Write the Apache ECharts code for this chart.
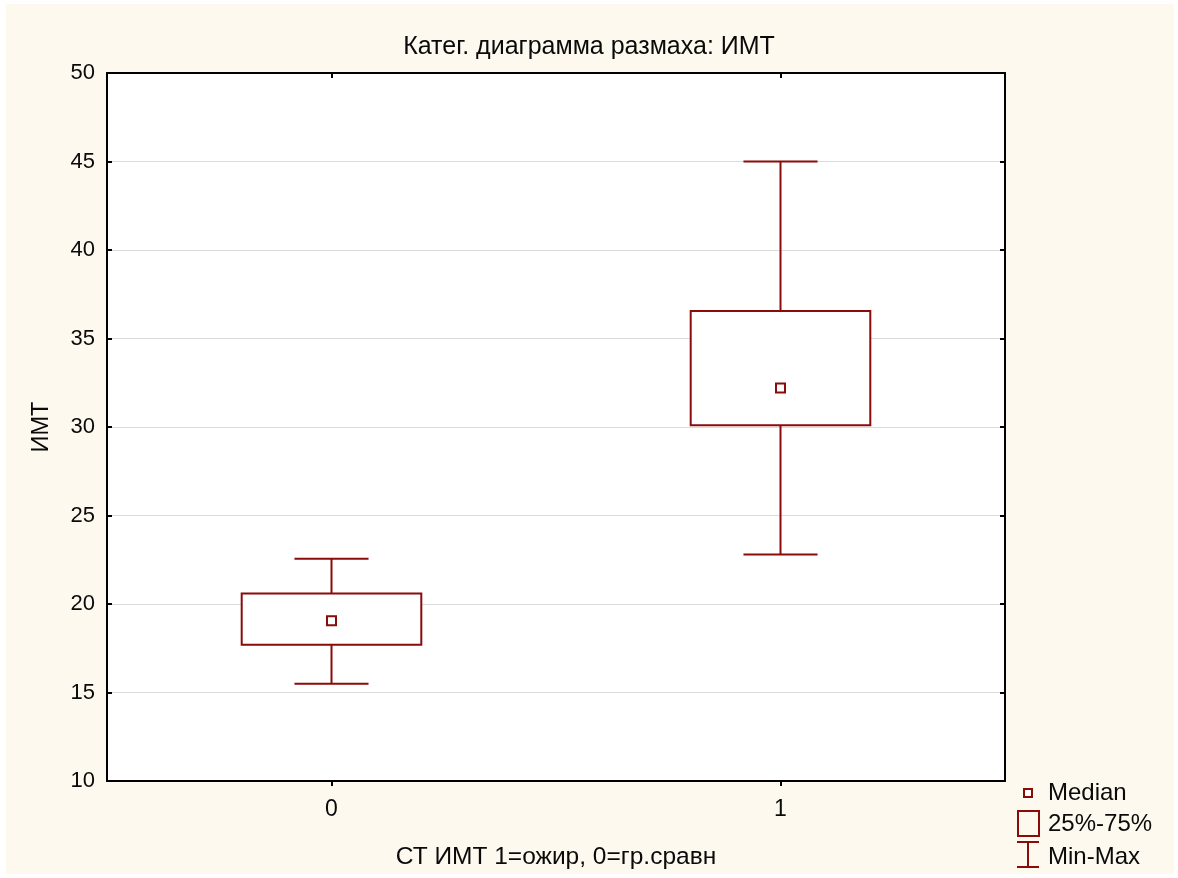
<!DOCTYPE html>
<html>
<head>
<meta charset="utf-8">
<script src="https://cdn.jsdelivr.net/npm/echarts@6/dist/echarts.min.js"></script>
<style>
html,body{margin:0;padding:0;background:#fff;}
#c{width:1178px;height:878px;}
</style>
</head>
<body>
<div id="c"></div>
<script>
const categories = ['0', '1'];
const minVals = [15.5, 22.8];
const q1Vals = [17.7, 30.1];
const medianVals = [19.05, 32.2];
const q3Vals = [20.6, 36.55];
const maxVals = [22.55, 45.0];
const yTicks = [10, 15, 20, 25, 30, 35, 40, 45, 50];
const legendLabels = ['Median', '25%-75%', 'Min-Max'];

const RED = '#8b0a0a';
const FONT = '"Liberation Sans", Arial, sans-serif';
const TXT = '#0a0a0a';

const data = categories.map((c, i) => [i, minVals[i], q1Vals[i], medianVals[i], q3Vals[i], maxVals[i]]);

function renderItem(params, api) {
  const idx = api.value(0);
  const band = api.size([1, 0])[0];
  const boxW = band * 0.4;
  const capW = band * 0.165;
  const pMin = api.coord([idx, api.value(1)]);
  const pQ1 = api.coord([idx, api.value(2)]);
  const pMed = api.coord([idx, api.value(3)]);
  const pQ3 = api.coord([idx, api.value(4)]);
  const pMax = api.coord([idx, api.value(5)]);
  const x = pMed[0];
  const ls = { stroke: RED, lineWidth: 2, fill: null };
  return {
    type: 'group',
    children: [
      { type: 'line', shape: { x1: x, y1: pMax[1], x2: x, y2: pQ3[1] }, style: ls },
      { type: 'line', shape: { x1: x, y1: pQ1[1], x2: x, y2: pMin[1] }, style: ls },
      { type: 'line', shape: { x1: x - capW / 2, y1: pMax[1], x2: x + capW / 2, y2: pMax[1] }, style: ls },
      { type: 'line', shape: { x1: x - capW / 2, y1: pMin[1], x2: x + capW / 2, y2: pMin[1] }, style: ls },
      { type: 'rect', shape: { x: x - boxW / 2, y: pQ3[1], width: boxW, height: pQ1[1] - pQ3[1] }, style: { stroke: RED, lineWidth: 2, fill: '#fff' } },
      { type: 'rect', shape: { x: x - 4.5, y: pMed[1] - 4.5, width: 9, height: 9 }, style: { stroke: RED, lineWidth: 2, fill: '#fff' } }
    ]
  };
}

const chart = echarts.init(document.getElementById('c'), null, { renderer: 'canvas' });
const lx = 1017, ly = 781;
chart.setOption({
  backgroundColor: '#ffffff',
  animation: false,
  textStyle: { fontFamily: FONT },
  title: {
    text: 'Катег. диаграмма размаха: ИМТ',
    left: 'center', top: 30,
    textStyle: { fontFamily: FONT, fontSize: 25, fontWeight: 'normal', color: TXT }
  },
  grid: {
    left: 107, right: 173, top: 73, bottom: 97,
    show: true, backgroundColor: '#ffffff', borderColor: '#000', borderWidth: 0
  },
  xAxis: [
    {
      type: 'category', data: categories, position: 'bottom', boundaryGap: true,
      name: 'СТ ИМТ 1=ожир, 0=гр.сравн', nameLocation: 'middle', nameGap: 64,
      nameTextStyle: { fontFamily: FONT, fontSize: 24.5, color: TXT },
      axisLine: { show: true, lineStyle: { color: '#000', width: 2 } },
      axisTick: { show: true, alignWithLabel: true, inside: false, length: 5, lineStyle: { color: '#000', width: 2 } },
      axisLabel: { fontFamily: FONT, fontSize: 23, color: TXT, margin: 17 },
      splitLine: { show: false }
    },
    {
      type: 'category', data: categories, position: 'top', boundaryGap: true,
      axisLine: { show: true, lineStyle: { color: '#000', width: 2 } },
      axisTick: { show: true, alignWithLabel: true, inside: true, length: 5, lineStyle: { color: '#000', width: 2 } },
      axisLabel: { show: false },
      splitLine: { show: false }
    }
  ],
  yAxis: [
    {
      type: 'value', min: 10, max: 50, interval: 5, position: 'left',
      name: 'ИМТ', nameLocation: 'middle', nameGap: 53, nameRotate: 90,
      nameTextStyle: { fontFamily: FONT, fontSize: 23.5, color: TXT },
      axisLine: { show: true, lineStyle: { color: '#000', width: 2 } },
      axisTick: { show: true, inside: true, length: 5, lineStyle: { color: '#000', width: 2 } },
      axisLabel: { fontFamily: FONT, fontSize: 22, color: TXT, margin: 12,
        formatter: v => yTicks.includes(v) ? String(v) : '' },
      splitLine: { show: true, lineStyle: { color: '#dcdcdc', width: 1 } }
    },
    {
      type: 'value', min: 10, max: 50, interval: 5, position: 'right',
      axisLine: { show: true, lineStyle: { color: '#000', width: 2 } },
      axisTick: { show: true, inside: true, length: 5, lineStyle: { color: '#000', width: 2 } },
      axisLabel: { show: false },
      splitLine: { show: false }
    }
  ],
  graphic: [
    { type: 'rect', z: -100, silent: true, shape: { x: 6, y: 4, width: 1168, height: 870 }, style: { fill: '#fef9ee' } },
    { type: 'rect', shape: { x: lx + 7, y: ly + 8, width: 8, height: 8 }, style: { stroke: RED, lineWidth: 2, fill: '#fff' } },
    { type: 'text', style: { text: legendLabels[0], x: lx + 31, y: ly + 12, verticalAlign: 'middle', font: '24px ' + FONT, fill: TXT } },
    { type: 'rect', shape: { x: lx + 1, y: ly + 30, width: 21, height: 25 }, style: { stroke: RED, lineWidth: 2, fill: null } },
    { type: 'text', style: { text: legendLabels[1], x: lx + 31, y: ly + 43, verticalAlign: 'middle', font: '24px ' + FONT, fill: TXT } },
    { type: 'line', shape: { x1: lx, y1: ly + 61, x2: lx + 22, y2: ly + 61 }, style: { stroke: RED, lineWidth: 2 } },
    { type: 'line', shape: { x1: lx + 11, y1: ly + 61, x2: lx + 11, y2: ly + 86 }, style: { stroke: RED, lineWidth: 2 } },
    { type: 'line', shape: { x1: lx, y1: ly + 86, x2: lx + 22, y2: ly + 86 }, style: { stroke: RED, lineWidth: 2 } },
    { type: 'text', style: { text: legendLabels[2], x: lx + 31, y: ly + 76, verticalAlign: 'middle', font: '24px ' + FONT, fill: TXT } }
  ],
  series: [{
    type: 'custom',
    xAxisIndex: 0, yAxisIndex: 0,
    renderItem: renderItem,
    data: data,
    encode: { x: 0, y: [1, 2, 3, 4, 5] },
    z: 10
  }]
});
</script>
</body>
</html>
